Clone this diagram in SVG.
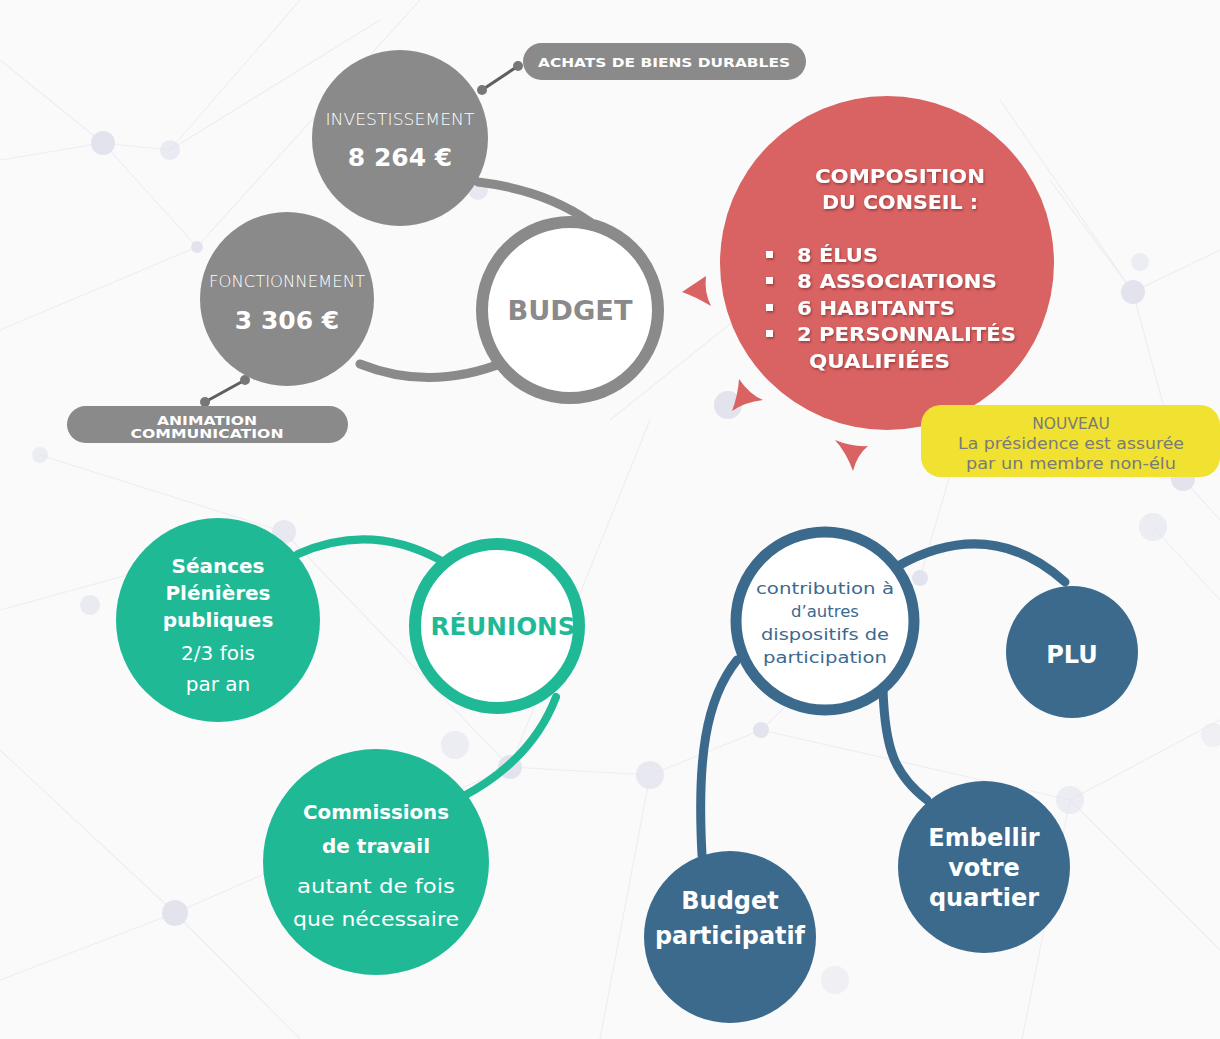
<svg xmlns="http://www.w3.org/2000/svg" width="1220" height="1039" viewBox="0 0 1220 1039">
<defs>
<style>
.t{font-family:"DejaVu Sans","Open Sans",sans-serif;text-anchor:middle}
.w{fill:#ffffff}
.bold{font-weight:bold}
.gconn{fill:none;stroke:#8a8a8a;stroke-width:9;stroke-linecap:round}
.tconn{fill:none;stroke:#20b996;stroke-width:8;stroke-linecap:round}
.bconn{fill:none;stroke:#3c6a8d;stroke-width:9;stroke-linecap:round}
.bg-l{stroke:#ededf2;stroke-width:1.1;fill:none}
.dot{fill:#e3e3ee}
.red{fill:#d96262}
</style>
<filter id="sh" x="-10%" y="-10%" width="120%" height="130%">
<feDropShadow dx="1" dy="1.5" stdDeviation="0.8" flood-color="#5a2020" flood-opacity="0.55"/>
</filter>
</defs>
<rect width="1220" height="1039" fill="#fafafb"/>
<g id="background">
<path class="bg-l" d="M0 160 L103 143 L170 150 L380 20 M103 143 L197 247 L0 330 M197 247 L420 0 M170 150 L300 0 M103 143 L0 60 M1133 292 L1220 250 M1133 292 L1050 180 M1133 292 L1183 479 L1220 520 M1183 479 L1000 470 M1153 527 L1220 600 M284 532 L0 610 M284 532 L510 767 L650 775 L761 730 L920 578 M510 767 L175 913 L0 980 M175 913 L300 1039 M650 775 L600 1039 M761 730 L1070 800 L1220 720 M1070 800 L1022 1039 M1070 800 L1220 950 M0 750 L175 913 M920 578 L960 440 M650 420 L510 767 M40 455 L284 532 M610 420 L760 300 M1000 100 L1133 292"/>
<circle class="dot" cx="103" cy="143" r="12"/>
<circle class="dot" cx="170" cy="150" r="10" opacity="0.7"/>
<circle class="dot" cx="197" cy="247" r="6"/>
<circle class="dot" cx="1133" cy="292" r="12"/>
<circle class="dot" cx="1140" cy="262" r="9" opacity="0.6"/>
<circle class="dot" cx="1183" cy="479" r="12"/>
<circle class="dot" cx="1153" cy="527" r="14" opacity="0.6"/>
<circle class="dot" cx="284" cy="532" r="12" opacity="0.8"/>
<circle class="dot" cx="510" cy="767" r="12"/>
<circle class="dot" cx="650" cy="775" r="14" opacity="0.8"/>
<circle class="dot" cx="761" cy="730" r="8"/>
<circle class="dot" cx="920" cy="578" r="8"/>
<circle class="dot" cx="1070" cy="800" r="14" opacity="0.6"/>
<circle class="dot" cx="175" cy="913" r="13"/>
<circle class="dot" cx="90" cy="605" r="10" opacity="0.7"/>
<circle class="dot" cx="728" cy="405" r="14"/>
<circle class="dot" cx="40" cy="455" r="8" opacity="0.6"/>
<circle class="dot" cx="478" cy="190" r="10" opacity="0.8"/>
<circle class="dot" cx="455" cy="745" r="14" opacity="0.6"/>
<circle class="dot" cx="1022" cy="898" r="10" opacity="0.5"/>
<circle class="dot" cx="835" cy="980" r="14" opacity="0.5"/>
<circle class="dot" cx="1213" cy="735" r="12" opacity="0.5"/>
</g>
<g id="connectors">
<path class="gconn" d="M478 182 Q545 190 590 222"/>
<path class="gconn" d="M360 364 Q430 392 505 362"/>
<g fill="#777">
<line x1="482" y1="90" x2="518" y2="66" stroke="#5f5f5f" stroke-width="3"/>
<circle cx="482" cy="90" r="5"/><circle cx="518" cy="66" r="5"/>
<line x1="245" y1="380" x2="205" y2="402" stroke="#5f5f5f" stroke-width="3"/>
<circle cx="245" cy="380" r="5"/><circle cx="205" cy="402" r="5"/>
</g>
<path class="tconn" d="M298 554 Q370 522 440 560"/>
<path class="tconn" d="M556 697 Q532 760 462 797"/>
<path class="bconn" d="M898 566 Q990 515 1065 582"/>
<path class="bconn" d="M883 690 C885 750 895 775 927 800"/>
<path class="bconn" d="M737 660 C705 700 697 760 702 855"/>
<g id="arrows" class="red">
<path d="M682 292 L706 276 Q704 292 711 306 Q694 296 682 292 Z"/>
<path d="M739 379 Q750 395 763 400 Q745 402 732 411 Q738 395 739 379 Z"/>
<path d="M835 440 Q852 447 868 446 Q857 455 853 471 Q846 452 835 440 Z"/>
</g>
</g>
<g id="investissement">
<circle cx="400" cy="138" r="88" fill="#8a8a8a"/>
<text class="t w" x="400" y="125" font-size="16.5" font-weight="300" textLength="149" lengthAdjust="spacingAndGlyphs">INVESTISSEMENT</text>
<text class="t w bold" x="400" y="166" font-size="25">8 264 €</text>
</g>
<g id="achats">
<rect x="523" y="43" width="283" height="37" rx="18.5" fill="#8a8a8a"/>
<text class="t w" x="664" y="67" font-size="12" font-weight="600" textLength="252" lengthAdjust="spacingAndGlyphs">ACHATS DE BIENS DURABLES</text>
</g>
<g id="fonctionnement">
<circle cx="287" cy="299" r="87" fill="#8a8a8a"/>
<text class="t w" x="287" y="287" font-size="16" font-weight="300" textLength="156" lengthAdjust="spacingAndGlyphs">FONCTIONNEMENT</text>
<text class="t w bold" x="287" y="329" font-size="25">3 306 €</text>
</g>
<g id="animation">
<rect x="67" y="406" width="281" height="37" rx="18.5" fill="#8a8a8a"/>
<text class="t w" x="207" y="425" font-size="12" font-weight="600" textLength="100" lengthAdjust="spacingAndGlyphs">ANIMATION</text>
<text class="t w" x="207" y="438" font-size="12" font-weight="600" textLength="153" lengthAdjust="spacingAndGlyphs">COMMUNICATION</text>
</g>
<g id="budget">
<circle cx="570" cy="310" r="88" fill="#ffffff" stroke="#8a8a8a" stroke-width="12"/>
<text class="t bold" x="570" y="320" font-size="26" fill="#8a8a8a" textLength="125" lengthAdjust="spacingAndGlyphs">BUDGET</text>
</g>
<g id="composition">
<circle cx="887" cy="263" r="167" class="red"/>
<g filter="url(#sh)" class="w" font-family="DejaVu Sans, Open Sans, sans-serif" font-weight="bold" font-size="20">
<text x="900" y="183" text-anchor="middle" textLength="170" lengthAdjust="spacingAndGlyphs">COMPOSITION</text>
<text x="900" y="209" text-anchor="middle" textLength="156" lengthAdjust="spacingAndGlyphs">DU CONSEIL :</text>
<rect x="766" y="251" width="7" height="7"/>
<rect x="766" y="277" width="7" height="7"/>
<rect x="766" y="304" width="7" height="7"/>
<rect x="766" y="330" width="7" height="7"/>
<text x="797" y="262" textLength="81" lengthAdjust="spacingAndGlyphs">8 ÉLUS</text>
<text x="797" y="288" textLength="200" lengthAdjust="spacingAndGlyphs">8 ASSOCIATIONS</text>
<text x="797" y="315" textLength="158" lengthAdjust="spacingAndGlyphs">6 HABITANTS</text>
<text x="797" y="341" textLength="219" lengthAdjust="spacingAndGlyphs">2 PERSONNALITÉS</text>
<text x="809" y="368" textLength="141" lengthAdjust="spacingAndGlyphs">QUALIFIÉES</text>
</g>
</g>
<g id="nouveau">
<rect x="921" y="405" width="299" height="72" rx="20" fill="#f1e131"/>
<text class="t" x="1071" y="429" font-size="15.5" fill="#7a7a7a">NOUVEAU</text>
<text class="t" x="1071" y="449" font-size="15.5" fill="#7a7a7a" textLength="226" lengthAdjust="spacingAndGlyphs">La présidence est assurée</text>
<text class="t" x="1071" y="469" font-size="15.5" fill="#7a7a7a" textLength="210" lengthAdjust="spacingAndGlyphs">par un membre non-élu</text>
</g>
<g id="seances">
<circle cx="218" cy="620" r="102" fill="#20b996"/>
<text class="t w" x="218" y="573" font-size="20" font-weight="600">Séances</text>
<text class="t w" x="218" y="600" font-size="20" font-weight="600">Plénières</text>
<text class="t w" x="218" y="627" font-size="20" font-weight="600">publiques</text>
<text class="t w" x="218" y="660" font-size="20">2/3 fois</text>
<text class="t w" x="218" y="691" font-size="20">par an</text>
</g>
<g id="reunions">
<circle cx="497" cy="626" r="82" fill="#ffffff" stroke="#20b996" stroke-width="12"/>
<text class="t bold" x="503" y="635" font-size="24" fill="#20b996" textLength="145" lengthAdjust="spacingAndGlyphs">RÉUNIONS</text>
</g>
<g id="commissions">
<circle cx="376" cy="862" r="113" fill="#20b996"/>
<text class="t w" x="376" y="819" font-size="20" font-weight="600" textLength="146" lengthAdjust="spacingAndGlyphs">Commissions</text>
<text class="t w" x="376" y="853" font-size="20" font-weight="600">de travail</text>
<text class="t w" x="376" y="893" font-size="20" textLength="158" lengthAdjust="spacingAndGlyphs">autant de fois</text>
<text class="t w" x="376" y="926" font-size="20" textLength="166" lengthAdjust="spacingAndGlyphs">que nécessaire</text>
</g>
<g id="contribution">
<circle cx="825" cy="621" r="89" fill="#ffffff" stroke="#3c6a8d" stroke-width="11"/>
<text class="t" x="825" y="594" font-size="16.5" fill="#3c6a8d" textLength="138" lengthAdjust="spacingAndGlyphs">contribution à</text>
<text class="t" x="825" y="617" font-size="16.5" fill="#3c6a8d">d’autres</text>
<text class="t" x="825" y="640" font-size="16.5" fill="#3c6a8d" textLength="128" lengthAdjust="spacingAndGlyphs">dispositifs de</text>
<text class="t" x="825" y="663" font-size="16.5" fill="#3c6a8d" textLength="124" lengthAdjust="spacingAndGlyphs">participation</text>
</g>
<g id="plu">
<circle cx="1072" cy="652" r="66" fill="#3c6a8d"/>
<text class="t w" x="1072" y="663" font-size="24" font-weight="600">PLU</text>
</g>
<g id="embellir">
<circle cx="984" cy="867" r="86" fill="#3c6a8d"/>
<text class="t w" x="984" y="846" font-size="24" font-weight="600">Embellir</text>
<text class="t w" x="984" y="876" font-size="24" font-weight="600">votre</text>
<text class="t w" x="984" y="906" font-size="24" font-weight="600">quartier</text>
</g>
<g id="budget-participatif">
<circle cx="730" cy="937" r="86" fill="#3c6a8d"/>
<text class="t w" x="730" y="909" font-size="24" font-weight="600">Budget</text>
<text class="t w" x="730" y="944" font-size="24" font-weight="600" textLength="150" lengthAdjust="spacingAndGlyphs">participatif</text>
</g>
</svg>
